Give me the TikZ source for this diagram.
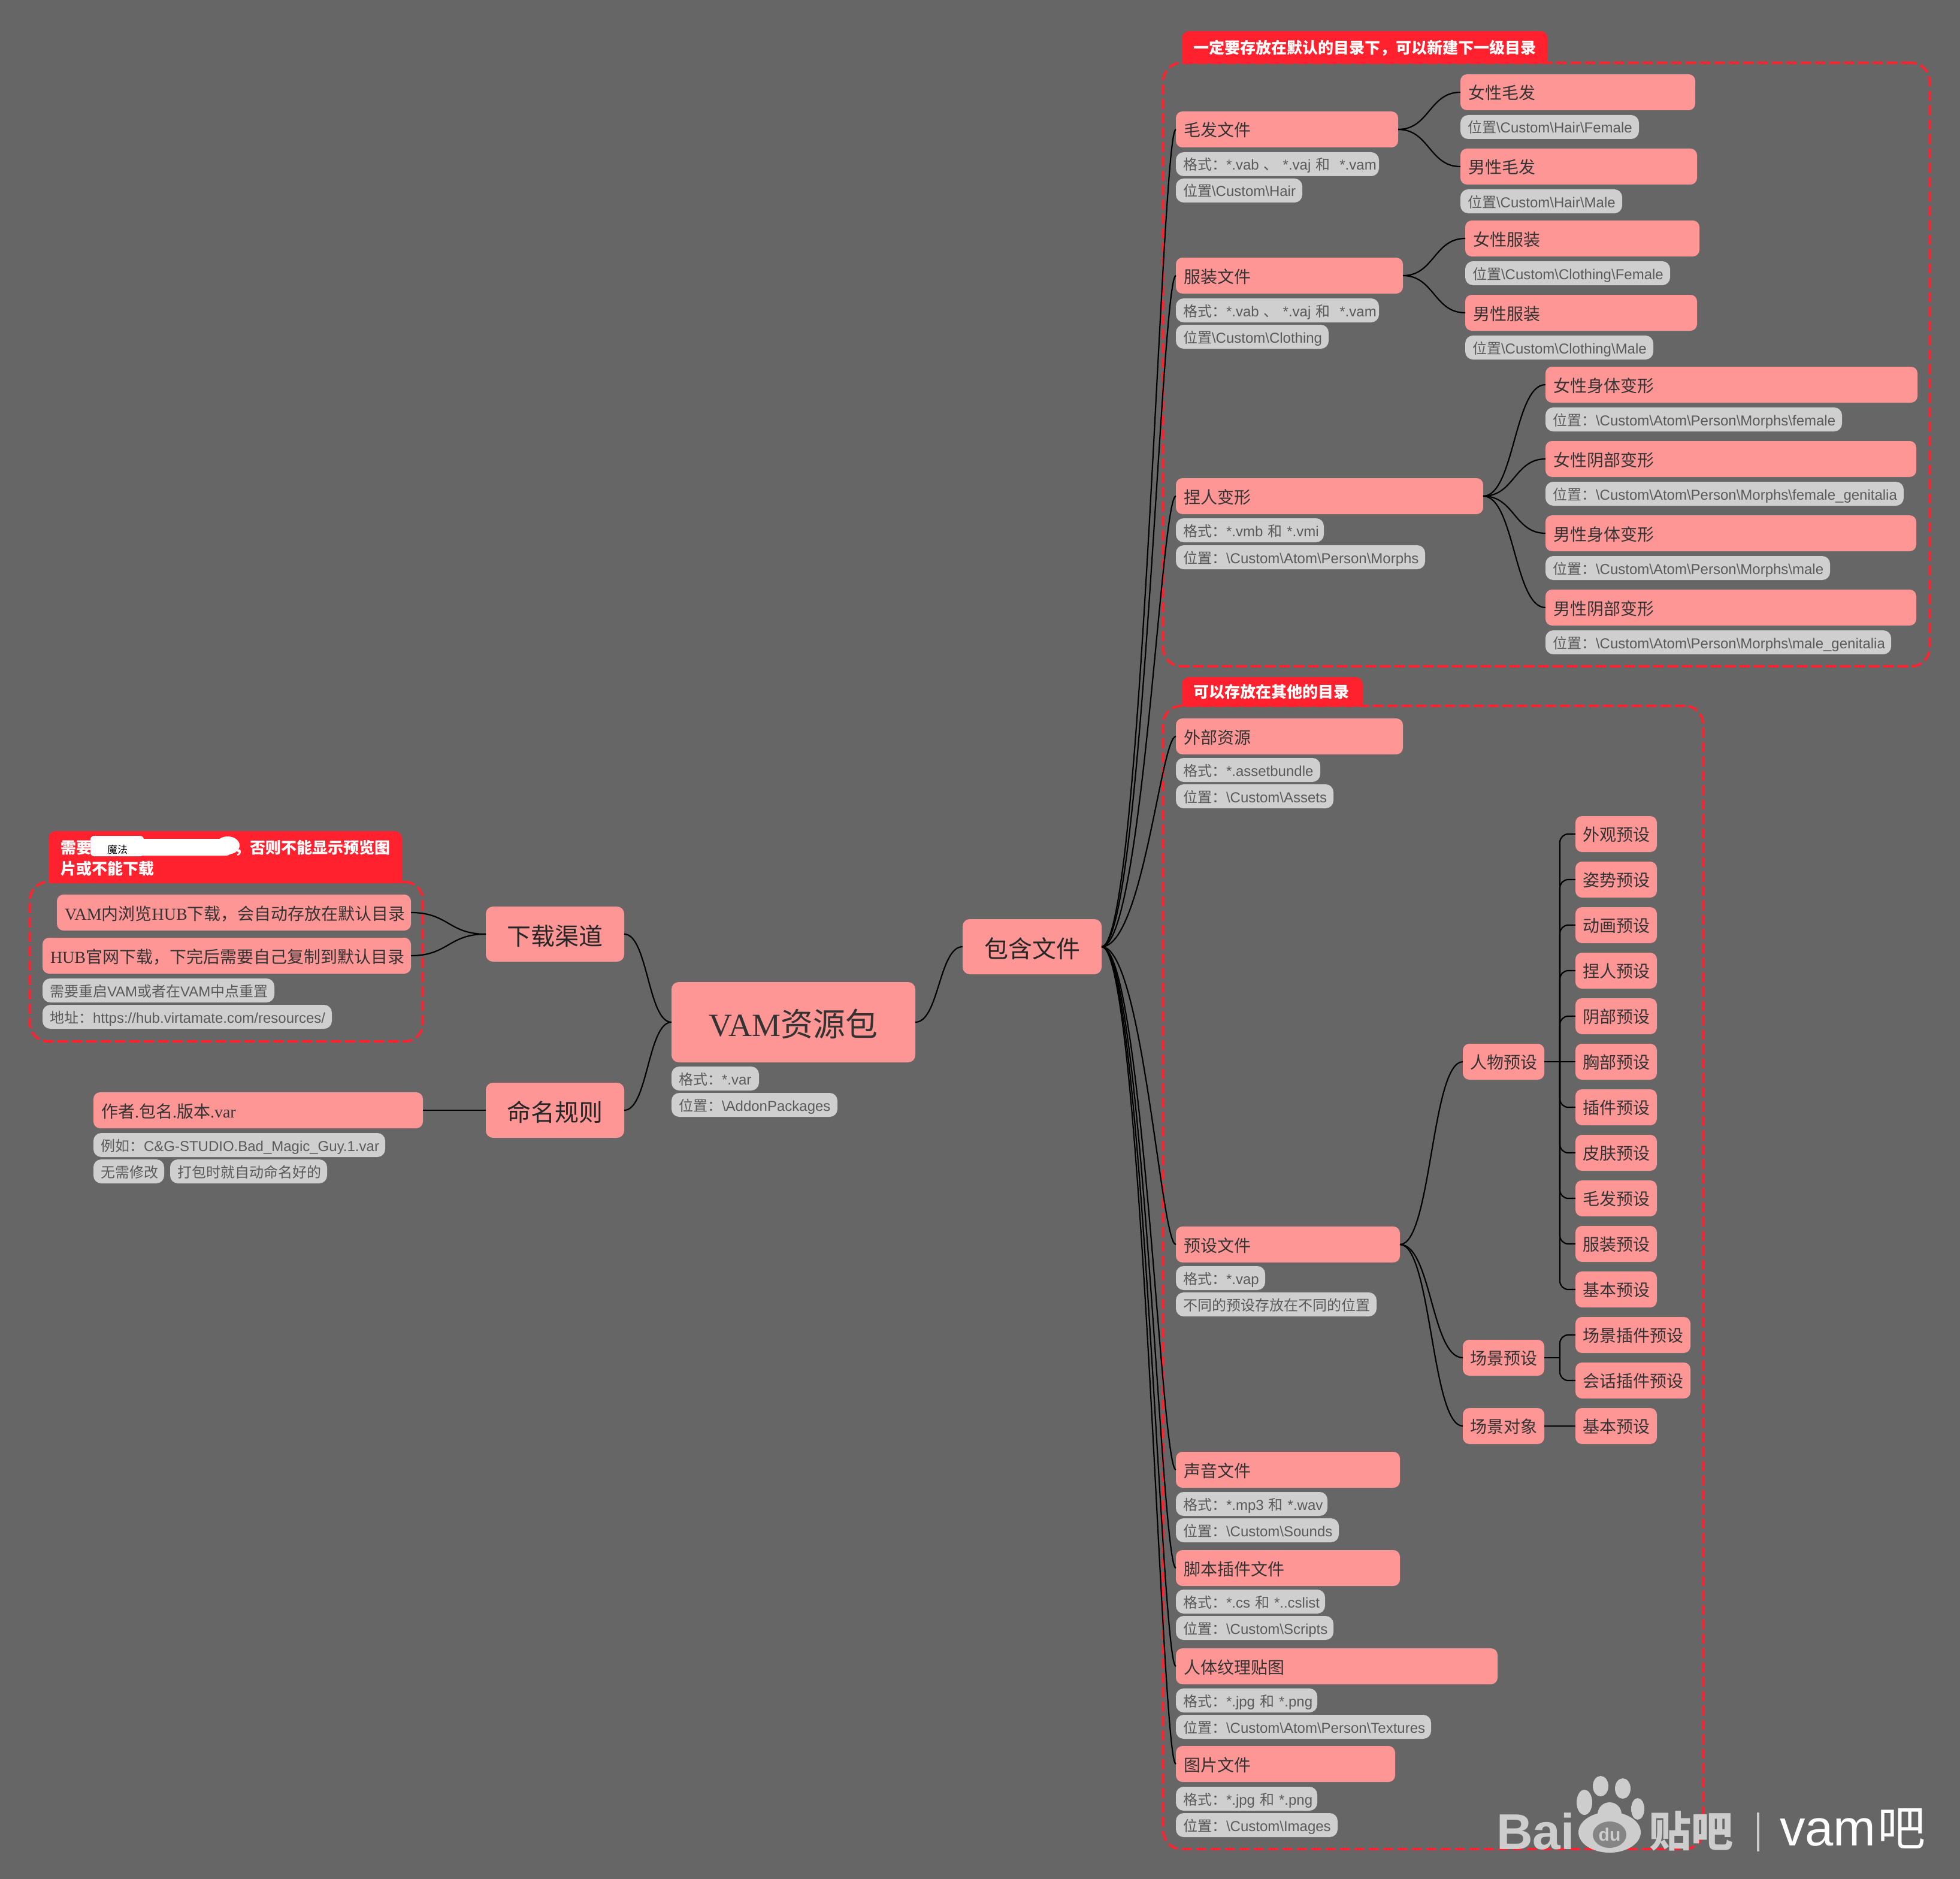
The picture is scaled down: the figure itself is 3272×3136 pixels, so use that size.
\documentclass[tikz,border=0pt]{standalone}
\usepackage{fontspec}
\setmainfont{Liberation Serif}
\setsansfont{Liberation Sans}
\newfontfamily\cjk{Noto Sans CJK SC}
\usetikzlibrary{calc}
\definecolor{bgc}{HTML}{666666}
\definecolor{pinkc}{HTML}{FF9696}
\definecolor{grayc}{HTML}{CFCFCF}
\definecolor{graytxt}{HTML}{5A5A5A}
\definecolor{redc}{HTML}{FF222E}
\definecolor{wmc}{HTML}{CDCDCD}
\newcommand{\Z}[1]{{\cjk #1}}
\newcommand{\G}[1]{{\cjk #1}}
\newcommand{\bs}{\textbackslash}
\tikzset{
  pinkbox/.style={fill=pinkc,text=black!80,rounded corners=11pt,minimum height=60pt,inner xsep=13pt,inner ysep=0pt,outer sep=0pt,align=left,text height=27pt,text depth=3pt,font=\fontsize{28}{34}\selectfont},
  pinksmall/.style={fill=pinkc,text=black!80,rounded corners=11pt,minimum height=60pt,inner xsep=0pt,inner ysep=0pt,outer sep=0pt,text height=25pt,text depth=3pt,font=\fontsize{28}{34}\selectfont},
  pinkbig/.style={fill=pinkc,text=black!85,rounded corners=12pt,minimum height=92pt,inner sep=0pt,outer sep=0pt,text height=40pt,text depth=4pt,font=\fontsize{40}{48}\selectfont},
  pinkroot/.style={fill=pinkc,text=black!80,rounded corners=12pt,minimum height=134pt,inner sep=0pt,outer sep=0pt,text height=52pt,text depth=5pt,font=\fontsize{54}{64}\selectfont},
  graybox/.style={fill=grayc,text=graytxt,rounded corners=13pt,minimum height=40pt,inner xsep=12pt,inner ysep=0pt,outer sep=0pt,align=left,text height=22pt,text depth=2pt,font=\sffamily\fontsize{24}{28}\selectfont},
  tagfill/.style={fill=redc},
  tagtext/.style={text=white,inner sep=0pt,anchor=west,font=\sffamily\bfseries\fontsize{26}{30}\selectfont},
  dashbox/.style={draw=redc,line width=4pt,dash pattern=on 17pt off 7pt,rounded corners=30pt,inner sep=0pt,outer sep=0pt},
  branch/.style={draw=black,line width=2.2pt},
  wmtext/.style={text=wmc,inner sep=0pt,anchor=base west},
  wmwhite/.style={text=white,inner sep=0pt,anchor=base west},
}
% left-aligned box: style, name, x-left, x-right, y-centre, text
\newcommand{\mm}[6]{%
  \pgfmathsetlengthmacro{\mmw}{(#4-#3-26)*1pt}%
  \node[#1,text width=\mmw,anchor=west] (#2) at (#3,#5) {\mbox{#6}};}
% gray box
\newcommand{\mg}[5]{%
  \pgfmathsetlengthmacro{\mmw}{(#3-#2-24)*1pt}%
  \node[graybox,text width=\mmw,anchor=west] (#1) at (#2,#4) {\mbox{#5}};}
% centred box
\newcommand{\mc}[6]{%
  \pgfmathsetlengthmacro{\mmw}{(#4-#3)*1pt}%
  \node[#1,minimum width=\mmw,anchor=west] (#2) at (#3,#5) {#6};}
% dashed group frame
\newcommand{\mdash}[5]{%
  \pgfmathsetlengthmacro{\mmw}{(#3-#2)*1pt}%
  \pgfmathsetlengthmacro{\mmh}{(#5-#4)*1pt}%
  \node[dashbox,minimum width=\mmw,minimum height=\mmh,anchor=north west] (#1) at (#2,#4) {};}
% red tag background
\newcommand{\mtag}[4]{%
  \fill[tagfill,rounded corners=12pt] (#1,#3) rectangle (#2,#4);
  \fill[tagfill] (#1,#3+20) rectangle (#2,#4);}
% connector
\newcommand{\br}[4]{%
  \draw[branch] let \p1=(#1.east),\p2=(#2.west) in
   (\p1) .. controls (\x1+#3*\x2-#3*\x1,\y1) and (\x2-#4*\x2+#4*\x1,\y2) .. (\p2);}
\newcommand{\brm}[2]{\br{#1}{#2}{0.5}{0.5}}
\newcommand{\bra}[1]{\br{inc}{#1}{0.55}{0.2}}
\begin{document}
\begin{tikzpicture}[x=1pt,y=-1pt]
\useasboundingbox (0,0) rectangle (3272,3136);
\fill[bgc] (0,0) rectangle (3272,3136);

% dashed frames
\mdash{grpa}{1942}{3221}{105}{1112}
\mdash{grpb}{1942}{2843}{1178}{3086}
\mdash{grpc}{50}{706}{1472}{1738}

% red tags
\mtag{1973}{2584}{52}{106}
\node[tagtext] (taga) at (1992,80) {\Z{一定要存放在默认的目录下，可以新建下一级目录}};
\mtag{1973}{2275}{1130}{1179}
\node[tagtext] (tagb) at (1992,1155) {\Z{可以存放在其他的目录}};
\mtag{81}{671}{1387}{1474}
\node[tagtext] (tagc1) at (101,1415) {\Z{需要}};
\fill[white,rounded corners=6pt] (151,1395) rectangle (240,1429);
\fill[white,rounded corners=8pt] (205,1400) rectangle (386,1428);
\fill[white] (380,1411) ellipse [x radius=20,y radius=15];
\node[inner sep=0pt,text=black,font=\fontsize{17}{20}\selectfont] (tagmagic) at (196,1418) {\Z{魔法}};
\node[tagtext] (tagc2) at (391,1415) {\Z{，否则不能显示预览图}};
\node[tagtext] (tagc3) at (101,1450) {\Z{片或不能下载}};

% centre
\mc{pinkroot}{root}{1121}{1528}{1706}{VAM\Z{资源包}}
\mg{rootg1}{1121}{1267}{1800}{\G{格式：}*.var}
\mg{rootg2}{1121}{1398}{1844}{\G{位置：}\bs AddonPackages}
\mc{pinkbig}{dl}{811}{1042}{1559}{\Z{下载渠道}}
\mc{pinkbig}{nm}{811}{1042}{1853}{\Z{命名规则}}
\mc{pinkbig}{inc}{1607}{1839}{1580}{\Z{包含文件}}

% left branch
\mm{pinkbox}{dla}{95}{686}{1523}{VAM\Z{内浏览}HUB\Z{下载，会自动存放在默认目录}}
\mm{pinkbox}{dlb}{71}{686}{1595}{HUB\Z{官网下载，下完后需要自己复制到默认目录}}
\mg{dlc}{71}{458}{1653}{\G{需要重启}VAM\G{或者在}VAM\G{中点重置}}
\mg{dld}{71}{554}{1697}{\G{地址：}https://hub.virtamate.com/resources/}
\mm{pinkbox}{nma}{156}{706}{1853}{\Z{作者}.\Z{包名}.\Z{版本}.var}
\mg{nmb}{156}{643}{1911}{\G{例如：}C\&G-STUDIO.Bad\_Magic\_Guy.1.var}
\mg{nmc}{156}{274}{1955}{\G{无需修改}}
\mg{nmd}{284}{546}{1955}{\G{打包时就自动命名好的}}

% group A
\mm{pinkbox}{hair}{1963}{2334}{216}{\Z{毛发文件}}
\mg{hairg1}{1963}{2302}{274}{\G{格式：}*.vab \G{、} *.vaj \G{和}\ \ *.vam}
\mg{hairg2}{1963}{2174}{318}{\G{位置}\bs Custom\bs Hair}
\mm{pinkbox}{hairf}{2438}{2830}{154}{\Z{女性毛发}}
\mg{hairfg}{2438}{2736}{212}{\G{位置}\bs Custom\bs Hair\bs Female}
\mm{pinkbox}{hairm}{2438}{2833}{278}{\Z{男性毛发}}
\mg{hairmg}{2438}{2708}{336}{\G{位置}\bs Custom\bs Hair\bs Male}
\mm{pinkbox}{clo}{1963}{2342}{460}{\Z{服装文件}}
\mg{clog1}{1963}{2302}{518}{\G{格式：}*.vab \G{、} *.vaj \G{和}\ \ *.vam}
\mg{clog2}{1963}{2218}{562}{\G{位置}\bs Custom\bs Clothing}
\mm{pinkbox}{clof}{2446}{2837}{398}{\Z{女性服装}}
\mg{clofg}{2446}{2788}{456}{\G{位置}\bs Custom\bs Clothing\bs Female}
\mm{pinkbox}{clom}{2446}{2833}{522}{\Z{男性服装}}
\mg{clomg}{2446}{2760}{580}{\G{位置}\bs Custom\bs Clothing\bs Male}
\mm{pinkbox}{mor}{1963}{2476}{828}{\Z{捏人变形}}
\mg{morg1}{1963}{2210}{885}{\G{格式：}*.vmb \G{和} *.vmi}
\mg{morg2}{1963}{2379}{930}{\G{位置：}\bs Custom\bs Atom\bs Person\bs Morphs}
\mm{pinkbox}{mora}{2580}{3201}{642}{\Z{女性身体变形}}
\mg{morag}{2580}{3075}{700}{\G{位置：}\bs Custom\bs Atom\bs Person\bs Morphs\bs female}
\mm{pinkbox}{morb}{2580}{3199}{766}{\Z{女性阴部变形}}
\mg{morbg}{2580}{3178}{824}{\G{位置：}\bs Custom\bs Atom\bs Person\bs Morphs\bs female\_genitalia}
\mm{pinkbox}{morc}{2580}{3199}{890}{\Z{男性身体变形}}
\mg{morcg}{2580}{3055}{948}{\G{位置：}\bs Custom\bs Atom\bs Person\bs Morphs\bs male}
\mm{pinkbox}{mord}{2580}{3199}{1014}{\Z{男性阴部变形}}
\mg{mordg}{2580}{3157}{1072}{\G{位置：}\bs Custom\bs Atom\bs Person\bs Morphs\bs male\_genitalia}

% group B
\mm{pinkbox}{ext}{1963}{2342}{1229}{\Z{外部资源}}
\mg{extg1}{1963}{2204}{1285}{\G{格式：}*.assetbundle}
\mg{extg2}{1963}{2226}{1329}{\G{位置：}\bs Custom\bs Assets}
\mm{pinkbox}{pre}{1963}{2337}{2077}{\Z{预设文件}}
\mg{preg1}{1963}{2112}{2133}{\G{格式：}*.vap}
\mg{preg2}{1963}{2298}{2177}{\G{不同的预设存放在不同的位置}}
\mc{pinksmall}{ppl}{2442}{2578}{1772}{\Z{人物预设}}
\mc{pinksmall}{pa}{2630}{2766}{1392}{\Z{外观预设}}
\mc{pinksmall}{pb}{2630}{2766}{1468}{\Z{姿势预设}}
\mc{pinksmall}{pc}{2630}{2766}{1544}{\Z{动画预设}}
\mc{pinksmall}{pd}{2630}{2766}{1620}{\Z{捏人预设}}
\mc{pinksmall}{pe}{2630}{2766}{1696}{\Z{阴部预设}}
\mc{pinksmall}{pf}{2630}{2766}{1772}{\Z{胸部预设}}
\mc{pinksmall}{pg}{2630}{2766}{1848}{\Z{插件预设}}
\mc{pinksmall}{ph}{2630}{2766}{1924}{\Z{皮肤预设}}
\mc{pinksmall}{pi}{2630}{2766}{2000}{\Z{毛发预设}}
\mc{pinksmall}{pj}{2630}{2766}{2076}{\Z{服装预设}}
\mc{pinksmall}{pk}{2630}{2766}{2152}{\Z{基本预设}}
\mc{pinksmall}{scn}{2442}{2578}{2266}{\Z{场景预设}}
\mc{pinksmall}{sa}{2630}{2822}{2228}{\Z{场景插件预设}}
\mc{pinksmall}{sb}{2630}{2822}{2304}{\Z{会话插件预设}}
\mc{pinksmall}{obj}{2442}{2578}{2380}{\Z{场景对象}}
\mc{pinksmall}{oa}{2630}{2766}{2380}{\Z{基本预设}}
\mm{pinkbox}{snd}{1963}{2337}{2453}{\Z{声音文件}}
\mg{sndg1}{1963}{2216}{2510}{\G{格式：}*.mp3 \G{和} *.wav}
\mg{sndg2}{1963}{2235}{2554}{\G{位置：}\bs Custom\bs Sounds}
\mm{pinkbox}{scr}{1963}{2337}{2617}{\Z{脚本插件文件}}
\mg{scrg1}{1963}{2212}{2673}{\G{格式：}*.cs \G{和} *..cslist}
\mg{scrg2}{1963}{2226}{2717}{\G{位置：}\bs Custom\bs Scripts}
\mm{pinkbox}{tex}{1963}{2500}{2781}{\Z{人体纹理贴图}}
\mg{texg1}{1963}{2199}{2838}{\G{格式：}*.jpg \G{和} *.png}
\mg{texg2}{1963}{2389}{2882}{\G{位置：}\bs Custom\bs Atom\bs Person\bs Textures}
\mm{pinkbox}{img}{1963}{2329}{2944}{\Z{图片文件}}
\mg{imgg1}{1963}{2199}{3002}{\G{格式：}*.jpg \G{和} *.png}
\mg{imgg2}{1963}{2233}{3046}{\G{位置：}\bs Custom\bs Images}

% connectors
\brm{dl}{root}
\brm{nm}{root}
\brm{root}{inc}
\brm{dla}{dl}
\brm{dlb}{dl}
\draw[branch] (nma.east) -- (nm.west);
\bra{hair}\bra{clo}\bra{mor}\bra{ext}\bra{pre}\bra{snd}\bra{scr}\bra{tex}\bra{img}
\brm{hair}{hairf}\brm{hair}{hairm}
\brm{clo}{clof}\brm{clo}{clom}
\brm{mor}{mora}\brm{mor}{morb}\brm{mor}{morc}\brm{mor}{mord}
\brm{pre}{ppl}\brm{pre}{scn}\brm{pre}{obj}
\coordinate (trunka) at (2604,1772);
\coordinate (trunkb) at (2604,2266);
\draw[branch] (ppl.east) -- (pf.west);
\foreach \c in {pa,pb,pc,pd,pe,pg,ph,pi,pj,pk}
  \draw[branch,rounded corners=14pt] (trunka) |- (\c.west);
\draw[branch] (scn.east) -- (trunkb);
\foreach \c in {sa,sb}
  \draw[branch,rounded corners=14pt] (trunkb) |- (\c.west);
\draw[branch] (obj.east) -- (oa.west);

% watermark
\node[wmtext,font=\sffamily\bfseries\fontsize{84}{90}\selectfont] (wmbai) at (2498,3086) {Bai};
\fill[wmc] (2672,2981) ellipse [x radius=13,y radius=17];
\fill[wmc] (2709,2985) ellipse [x radius=13,y radius=17];
\fill[wmc] (2645,3008) ellipse [x radius=13,y radius=21];
\fill[wmc] (2734,3019) ellipse [x radius=11,y radius=18];
\fill[wmc] (2687,3058) ellipse [x radius=52,y radius=34];
\fill[wmc] (2687,3028) ellipse [x radius=20,y radius=20];
\fill[bgc!80!white] (2687,3062) ellipse [x radius=28,y radius=22];
\node[inner sep=0pt,text=wmc,font=\sffamily\bfseries\fontsize{30}{34}\selectfont] (wmdu) at (2687,3062) {du};
\node[wmtext,font=\sffamily\bfseries\fontsize{70}{80}\selectfont] (wmtb) at (2753,3082) {\Z{贴吧}};
\fill[wmc] (2933,3025) rectangle (2937,3090);
\node[wmwhite,font=\sffamily\fontsize{85}{90}\selectfont] (wmvam) at (2971,3080) {vam};
\node[wmwhite,font=\fontsize{80}{90}\selectfont] (wmba) at (3134,3080) {\Z{吧}};
\end{tikzpicture}
\end{document}
